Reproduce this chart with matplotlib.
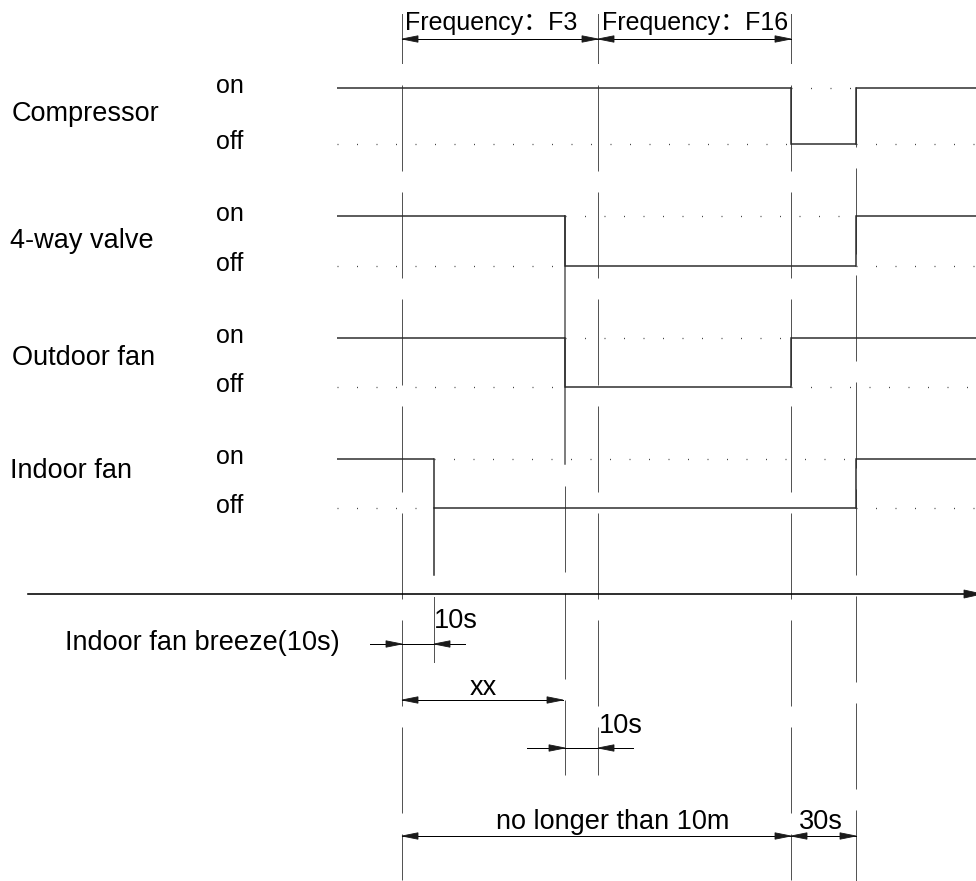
"""
Timing diagram: compressor / 4-way valve / fans around a defrost cycle.
Everything is laid out in pixel units on one full-figure axes.
"""

import matplotlib
matplotlib.use("Agg")
import matplotlib.pyplot as plt

plt.rcParams["font.family"] = ["Liberation Sans", "Noto Sans CJK SC", "DejaVu Sans"]
plt.rcParams["lines.scale_dashes"] = False

W, H = 976, 881
PX = 0.72  # points per pixel at dpi=100

# event times along the time axis (pixel x)
T_START, T_END = 337, 976
T_DEFROST = 402      # frequency F3 starts
T_INDOOR = 434       # indoor fan off after 10s breeze
T_VALVE = 565        # 4-way valve + outdoor fan off
T_F16 = 598          # frequency F16 starts
T_COMP_OFF = 791     # compressor stops
T_COMP_ON = 856      # compressor restarts after 30s

signal_names = ["Compressor", "4-way valve", "Outdoor fan", "Indoor fan"]
name_pos = [(12, 114), (10, 241), (12, 358), (10, 471)]
on_y = [88, 216, 338, 459]
off_y = [144, 266, 387, 508]
# change points and states (1 = on, 0 = off) for each signal
edges = [
    [T_START, T_COMP_OFF, T_COMP_ON, T_END],
    [T_START, T_VALVE, T_COMP_ON, T_END],
    [T_START, T_VALVE, T_COMP_OFF, T_END],
    [T_START, T_INDOOR, T_COMP_ON, T_END],
]
states = [[1, 0, 1], [1, 0, 1], [1, 0, 1], [1, 0, 1]]

AXIS_Y = 594

# dashed guide lines (x, y top, y bottom, dash offset in px)
guides = [(T_DEFROST, 85, 880, 0), (T_F16, 85, 775, 0), (T_COMP_OFF, 85, 880, 0),
          (T_COMP_ON, 88, 881, 27), (T_VALVE, 486, 775, 0)]

# outward double-arrow dimensions: x0, x1, y, label, label x, label y, size
dims = [
    (T_DEFROST, T_F16, 39, "Frequency\uff1aF3", 491, 23, 18),
    (T_F16, T_COMP_OFF, 39, "Frequency\uff1aF16", 695, 23, 18),
    (T_DEFROST, T_VALVE - 2, 700, "xx", 483, 688, 19.5),
    (T_DEFROST, T_COMP_OFF, 836, "no longer than 10m", 613, 822, 19.5),
    (T_COMP_OFF, T_COMP_ON, 836, "30s", 821, 822, 19.5),
]
# inward dimensions: x0, x1, y, line start, line end, label, label x, label y
short_dims = [
    (T_DEFROST, T_INDOOR, 644, 370, 465, "10s", 434, 621),
    (T_VALVE, T_F16, 748, 527, 633, "10s", 599, 726),
]

LINE_C = "#2a2a2a"
GUIDE_C = "#555555"
FS = 19.5


def arrow_head(ax, x, y, direction, length=16, half=3.2):
    ax.fill([x, x - direction * length, x - direction * length],
            [y, y - half, y + half], color="#1a1a1a", lw=0.6, zorder=5)


fig = plt.figure(figsize=(W / 100, H / 100), dpi=100)
ax = fig.add_axes([0, 0, 1, 1])
ax.set_xlim(0, W)
ax.set_ylim(H, 0)
ax.axis("off")

# guide lines
for x, y0, y1, off in guides:
    ax.plot([x, x], [y0, y1], color=GUIDE_C, lw=1.0 * PX,
            linestyle=(off * PX, (86 * PX, 21 * PX)), zorder=1)

# top extension lines
for x in (T_DEFROST, T_F16, T_COMP_OFF):
    ax.plot([x, x], [14, 63], color=GUIDE_C, lw=1.0 * PX)

# signals
for name, (nx, ny), yo, yf, ed, st in zip(signal_names, name_pos, on_y, off_y, edges, states):
    ax.text(nx, ny, name, fontsize=FS, va="center", ha="left")
    ax.text(216, yo - 2, "on", fontsize=18, va="center", ha="left")
    ax.text(216, yf - 2, "off", fontsize=18, va="center", ha="left")
    for i, s in enumerate(st):
        x0, x1 = ed[i], ed[i + 1]
        active = yo if s else yf
        idle = yf if s else yo
        ax.plot([x0, x1], [active, active], color=LINE_C, lw=1.5 * PX, zorder=3,
                solid_capstyle="butt")
        ax.plot([x0, x1], [idle, idle], color="#444444", lw=1.3 * PX, zorder=2,
                linestyle=(0, (1 * PX, 18.5 * PX)))
    for x in ed[1:-1]:
        ax.plot([x, x], [yo, yf], color=LINE_C, lw=1.5 * PX, zorder=3)

# indoor fan step runs on below the signal, then the 10s extension line
ax.plot([T_INDOOR, T_INDOOR], [off_y[3], 575], color=LINE_C, lw=1.5 * PX, zorder=3)
ax.plot([T_INDOOR, T_INDOOR], [597, 662], color=GUIDE_C, lw=1.0 * PX)
ax.plot([T_VALVE, T_VALVE], [216, 464], color=GUIDE_C, lw=1.5 * PX, zorder=2)

# time axis
ax.plot([28, W], [AXIS_Y, AXIS_Y], color="black", lw=1.6 * PX, zorder=4)
arrow_head(ax, W + 6, AXIS_Y, 1, length=18, half=4)

# dimensions
for x0, x1, y, label, lx, ly, fs in dims:
    ax.plot([x0, x1], [y, y], color="black", lw=1.0 * PX, zorder=4)
    arrow_head(ax, x0, y, -1)
    arrow_head(ax, x1, y, 1)
    ax.text(lx, ly, label, fontsize=fs, ha="center", va="center")

for x0, x1, y, l0, l1, label, lx, ly in short_dims:
    ax.plot([l0, l1], [y, y], color="black", lw=1.0 * PX, zorder=4)
    arrow_head(ax, x0, y, 1)
    arrow_head(ax, x1, y, -1)
    ax.text(lx, ly, label, fontsize=FS, ha="left", va="center")

ax.text(65, 643, "Indoor fan breeze(10s)", fontsize=FS, ha="left", va="center")

fig.savefig("out.png", dpi=100)
